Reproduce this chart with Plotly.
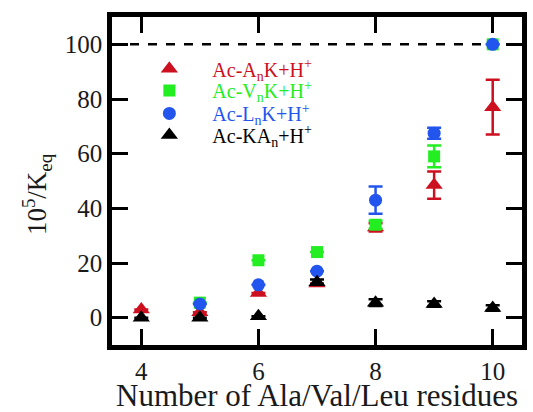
import plotly.graph_objects as go

# Residue counts and 10^5/K_eq values for each peptide series
n_AnK = [4, 5, 6, 7, 8, 9, 10]
AnK = [3, 2, 9, 12.5, 33, 48.5, 77]
AnK_err = [0, 0, 0, 0, 1.5, 5, 10]

n_VnK = [5, 6, 7, 8, 9, 10]
VnK = [5.5, 21, 24, 34, 59, 100]
VnK_err = [0, 0, 0, 1.5, 4, 0]

n_LnK = [5, 6, 7, 8, 9, 10]
LnK = [5, 12, 17, 43, 67.5, 100]
LnK_err = [0, 0, 0, 5, 2, 0]

n_KAn = [4, 5, 6, 7, 8, 9, 10]
KAn = [0, 0, 0.5, 13, 5.5, 5, 3.5]
KAn_err = [0, 0, 0, 1, 1.2, 1, 1]

x_ticks = [4, 6, 8, 10]
y_ticks = [0, 20, 40, 60, 80, 100]

RED = "#cc1020"
GREEN = "#22ee22"
BLUE = "#2255ee"
BLACK = "#000000"

series = [
    ("Ac-A<sub>n</sub>K+H<sup>+</sup>", n_AnK, AnK, AnK_err, RED, "triangle-up", 15),
    ("Ac-V<sub>n</sub>K+H<sup>+</sup>", n_VnK, VnK, VnK_err, GREEN, "square", 12),
    ("Ac-L<sub>n</sub>K+H<sup>+</sup>", n_LnK, LnK, LnK_err, BLUE, "circle", 13),
    ("Ac-KA<sub>n</sub>+H<sup>+</sup>", n_KAn, KAn, KAn_err, BLACK, "triangle-up", 15),
]
# one legend box per series, stacked inside the upper-left of the plot
legend_ids = ["legend", "legend2", "legend3", "legend4"]
legend_rows = [0.842, 0.776, 0.706, 0.640]

fig = go.Figure()

# Reference line at 100
fig.add_trace(go.Scatter(
    x=[3.5, 10.5], y=[100, 100], mode="lines",
    line=dict(color="black", width=2.5, dash="dash"),
    showlegend=False, hoverinfo="skip",
))

for (name, xs, ys, errs, col, sym, size), lg in zip(series, legend_ids):
    fig.add_trace(go.Scatter(
        x=xs, y=ys, mode="markers", legend=lg,
        name=f"<span style='color:{col}'>{name}</span>",
        marker=dict(symbol=sym, size=size, color=col, line=dict(width=0)),
        error_y=dict(type="data", array=errs, visible=True,
                     color=col, thickness=2.5, width=7),
    ))

axis_common = dict(
    showline=True, linecolor="black", linewidth=4.5, mirror="ticks",
    ticks="inside", ticklen=16, tickwidth=3, tickcolor="black",
    showgrid=False, zeroline=False, automargin=False,
    tickfont=dict(family="Liberation Serif", size=25, color="#1a1a1a"),
)

legend_style = dict(
    x=0.035, xanchor="left", yanchor="middle",
    bgcolor="rgba(0,0,0,0)",
    font=dict(family="Liberation Serif", size=20),
    itemwidth=76, tracegroupgap=0,
)

fig.update_layout(
    width=533, height=412,
    margin=dict(l=112, r=11, t=17, b=67),
    plot_bgcolor="white", paper_bgcolor="white",
    font=dict(family="Liberation Serif", color="#1a1a1a"),
    xaxis=dict(range=[3.5, 10.5], tickvals=x_ticks, **axis_common),
    yaxis=dict(range=[-10, 110], tickvals=y_ticks, **axis_common),
    annotations=[
        dict(text="10<sup>5</sup>/K<sub>eq</sub>", textangle=-90,
             xref="paper", yref="paper", x=0, y=0.46,
             xanchor="center", yanchor="middle", xshift=-75, showarrow=False,
             font=dict(family="Liberation Serif", size=27, color="#1a1a1a")),
        dict(text="Number of Ala/Val/Leu residues",
             xref="paper", yref="paper", x=0.5, y=0,
             xanchor="center", yanchor="middle", yshift=-50, showarrow=False,
             font=dict(family="Liberation Serif", size=31, color="#1a1a1a")),
    ],
)
for lg, row in zip(legend_ids, legend_rows):
    fig.update_layout({lg: dict(y=row, **legend_style)})

fig.write_html("out.html")
